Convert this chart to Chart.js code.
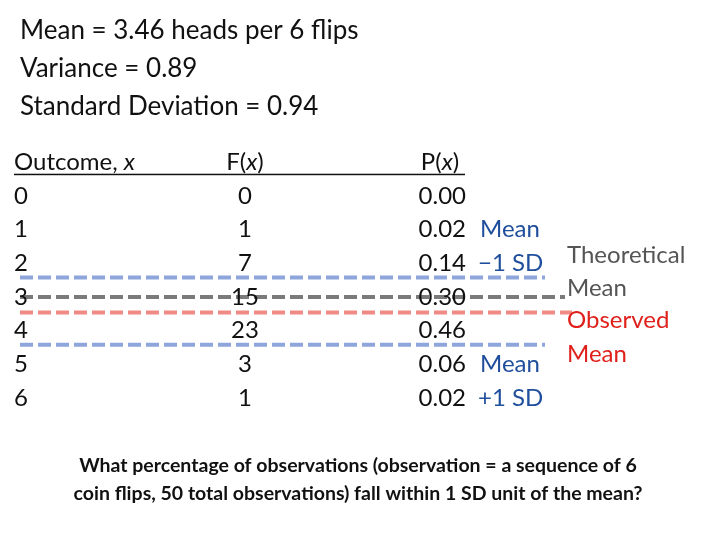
<!DOCTYPE html>
<html lang="en">
<head>
<meta charset="UTF-8">
<title>Coin flips</title>
<script src="https://cdn.jsdelivr.net/npm/chart.js"></script>
<style>body{margin:0;background:#fff}</style>
</head>
<body>
<div style="width:720px;height:540px"><canvas id="myChart"></canvas></div>
<script>
const outcomes = [0, 1, 2, 3, 4, 5, 6];
const freq = [0, 1, 7, 15, 23, 3, 1];
const probs = ['0.00', '0.02', '0.14', '0.30', '0.46', '0.06', '0.02'];
const titleLines = ['Mean = 3.46 heads per 6 flips', 'Variance = 0.89', 'Standard Deviation = 0.94'];
const question = ['What percentage of observations (observation = a sequence of 6',
                  'coin flips, 50 total observations) fall within 1 SD unit of the mean?'];
// reference lines (in outcome units, as drawn)
const minusSD = 2.42, theoMean = 3.0, obsMean = 3.46, plusSD = 4.42;

function hline(y, x1, x2, color) {
  return { data: [{x: x1, y: y}, {x: x2, y: y}], borderColor: color, borderWidth: 4,
           borderDash: [13, 5], pointRadius: 0, fill: false };
}

const font = 'Lato, "Open Sans", sans-serif';
const textPlugin = {
  id: 'tableText',
  afterDatasetsDraw(chart) {
    const c = chart.ctx, xs = chart.scales.x, ys = chart.scales.y;
    const X = v => xs.getPixelForValue(v), Y = v => ys.getPixelForValue(v);
    // text with an italic x in parentheses, centred at cx
    function fx(name, cx, cy) {
      c.font = '24px ' + font;
      const a = c.measureText(name + '(').width;
      c.font = 'italic 24px ' + font;
      const b = c.measureText('x').width;
      c.font = '24px ' + font;
      const d = c.measureText(')').width;
      let x0 = cx - (a + b + d) / 2;
      c.textAlign = 'left';
      c.fillText(name + '(', x0, cy);
      c.font = 'italic 24px ' + font; c.fillText('x', x0 + a, cy);
      c.font = '24px ' + font; c.fillText(')', x0 + a + b, cy);
    }
    c.save();
    c.textBaseline = 'middle';
    c.fillStyle = '#111';
    c.font = '26px ' + font;
    c.textAlign = 'left';
    titleLines.forEach((t, i) => c.fillText(t, X(20), Y(-4.9 + i * 1.12)));
    // header
    c.font = '24px ' + font;
    c.fillText('Outcome, ', X(14), Y(-1));
    let w = c.measureText('Outcome, ').width;
    c.font = 'italic 24px ' + font; c.fillText('x', X(14) + w, Y(-1));
    fx('F', X(245), Y(-1));
    fx('P', X(440), Y(-1));
    c.fillRect(X(14), Y(-0.66), X(465) - X(14), 1.5);
    c.font = '24px ' + font;
    outcomes.forEach((o, i) => {
      c.textAlign = 'left'; c.fillText(String(o), X(14), Y(o));
      c.textAlign = 'center'; c.fillText(String(freq[i]), X(245), Y(o));
      c.textAlign = 'right'; c.fillText(probs[i], X(466), Y(o));
    });
    c.textAlign = 'left';
    c.fillStyle = '#1f4e9c';
    c.fillText('Mean', X(480), Y(1)); c.fillText('\u22121 SD', X(478), Y(2));
    c.fillText('Mean', X(480), Y(5)); c.fillText('+1 SD', X(478), Y(6));
    c.fillStyle = '#555';
    c.fillText('Theoretical', X(567), Y(1.75)); c.fillText('Mean', X(567), Y(2.75));
    c.fillStyle = '#e0201b';
    c.fillText('Observed', X(567), Y(3.7)); c.fillText('Mean', X(567), Y(4.7));
    c.fillStyle = '#111';
    c.font = 'bold 19.5px ' + font; c.textAlign = 'center';
    question.forEach((t, i) => c.fillText(t, X(358), Y(8.0 + i * 0.85)));
    c.restore();
  }
};

new Chart(document.getElementById('myChart'), {
  type: 'line',
  data: { datasets: [
    hline(minusSD, 20, 545, '#8ea6dc'),
    hline(theoMean, 20, 565, '#7a7a7a'),
    hline(obsMean, 20, 572, '#f08a85'),
    hline(plusSD, 20, 545, '#8ea6dc')
  ]},
  options: {
    responsive: true, maintainAspectRatio: false, animation: false,
    layout: { padding: 0 },
    plugins: { legend: { display: false }, tooltip: { enabled: false } },
    scales: {
      x: { type: 'linear', min: 0, max: 720, display: false },
      y: { type: 'linear', min: -5.82, max: 10.22, reverse: true, display: false }
    }
  },
  plugins: [textPlugin]
});
</script>
</body>
</html>
